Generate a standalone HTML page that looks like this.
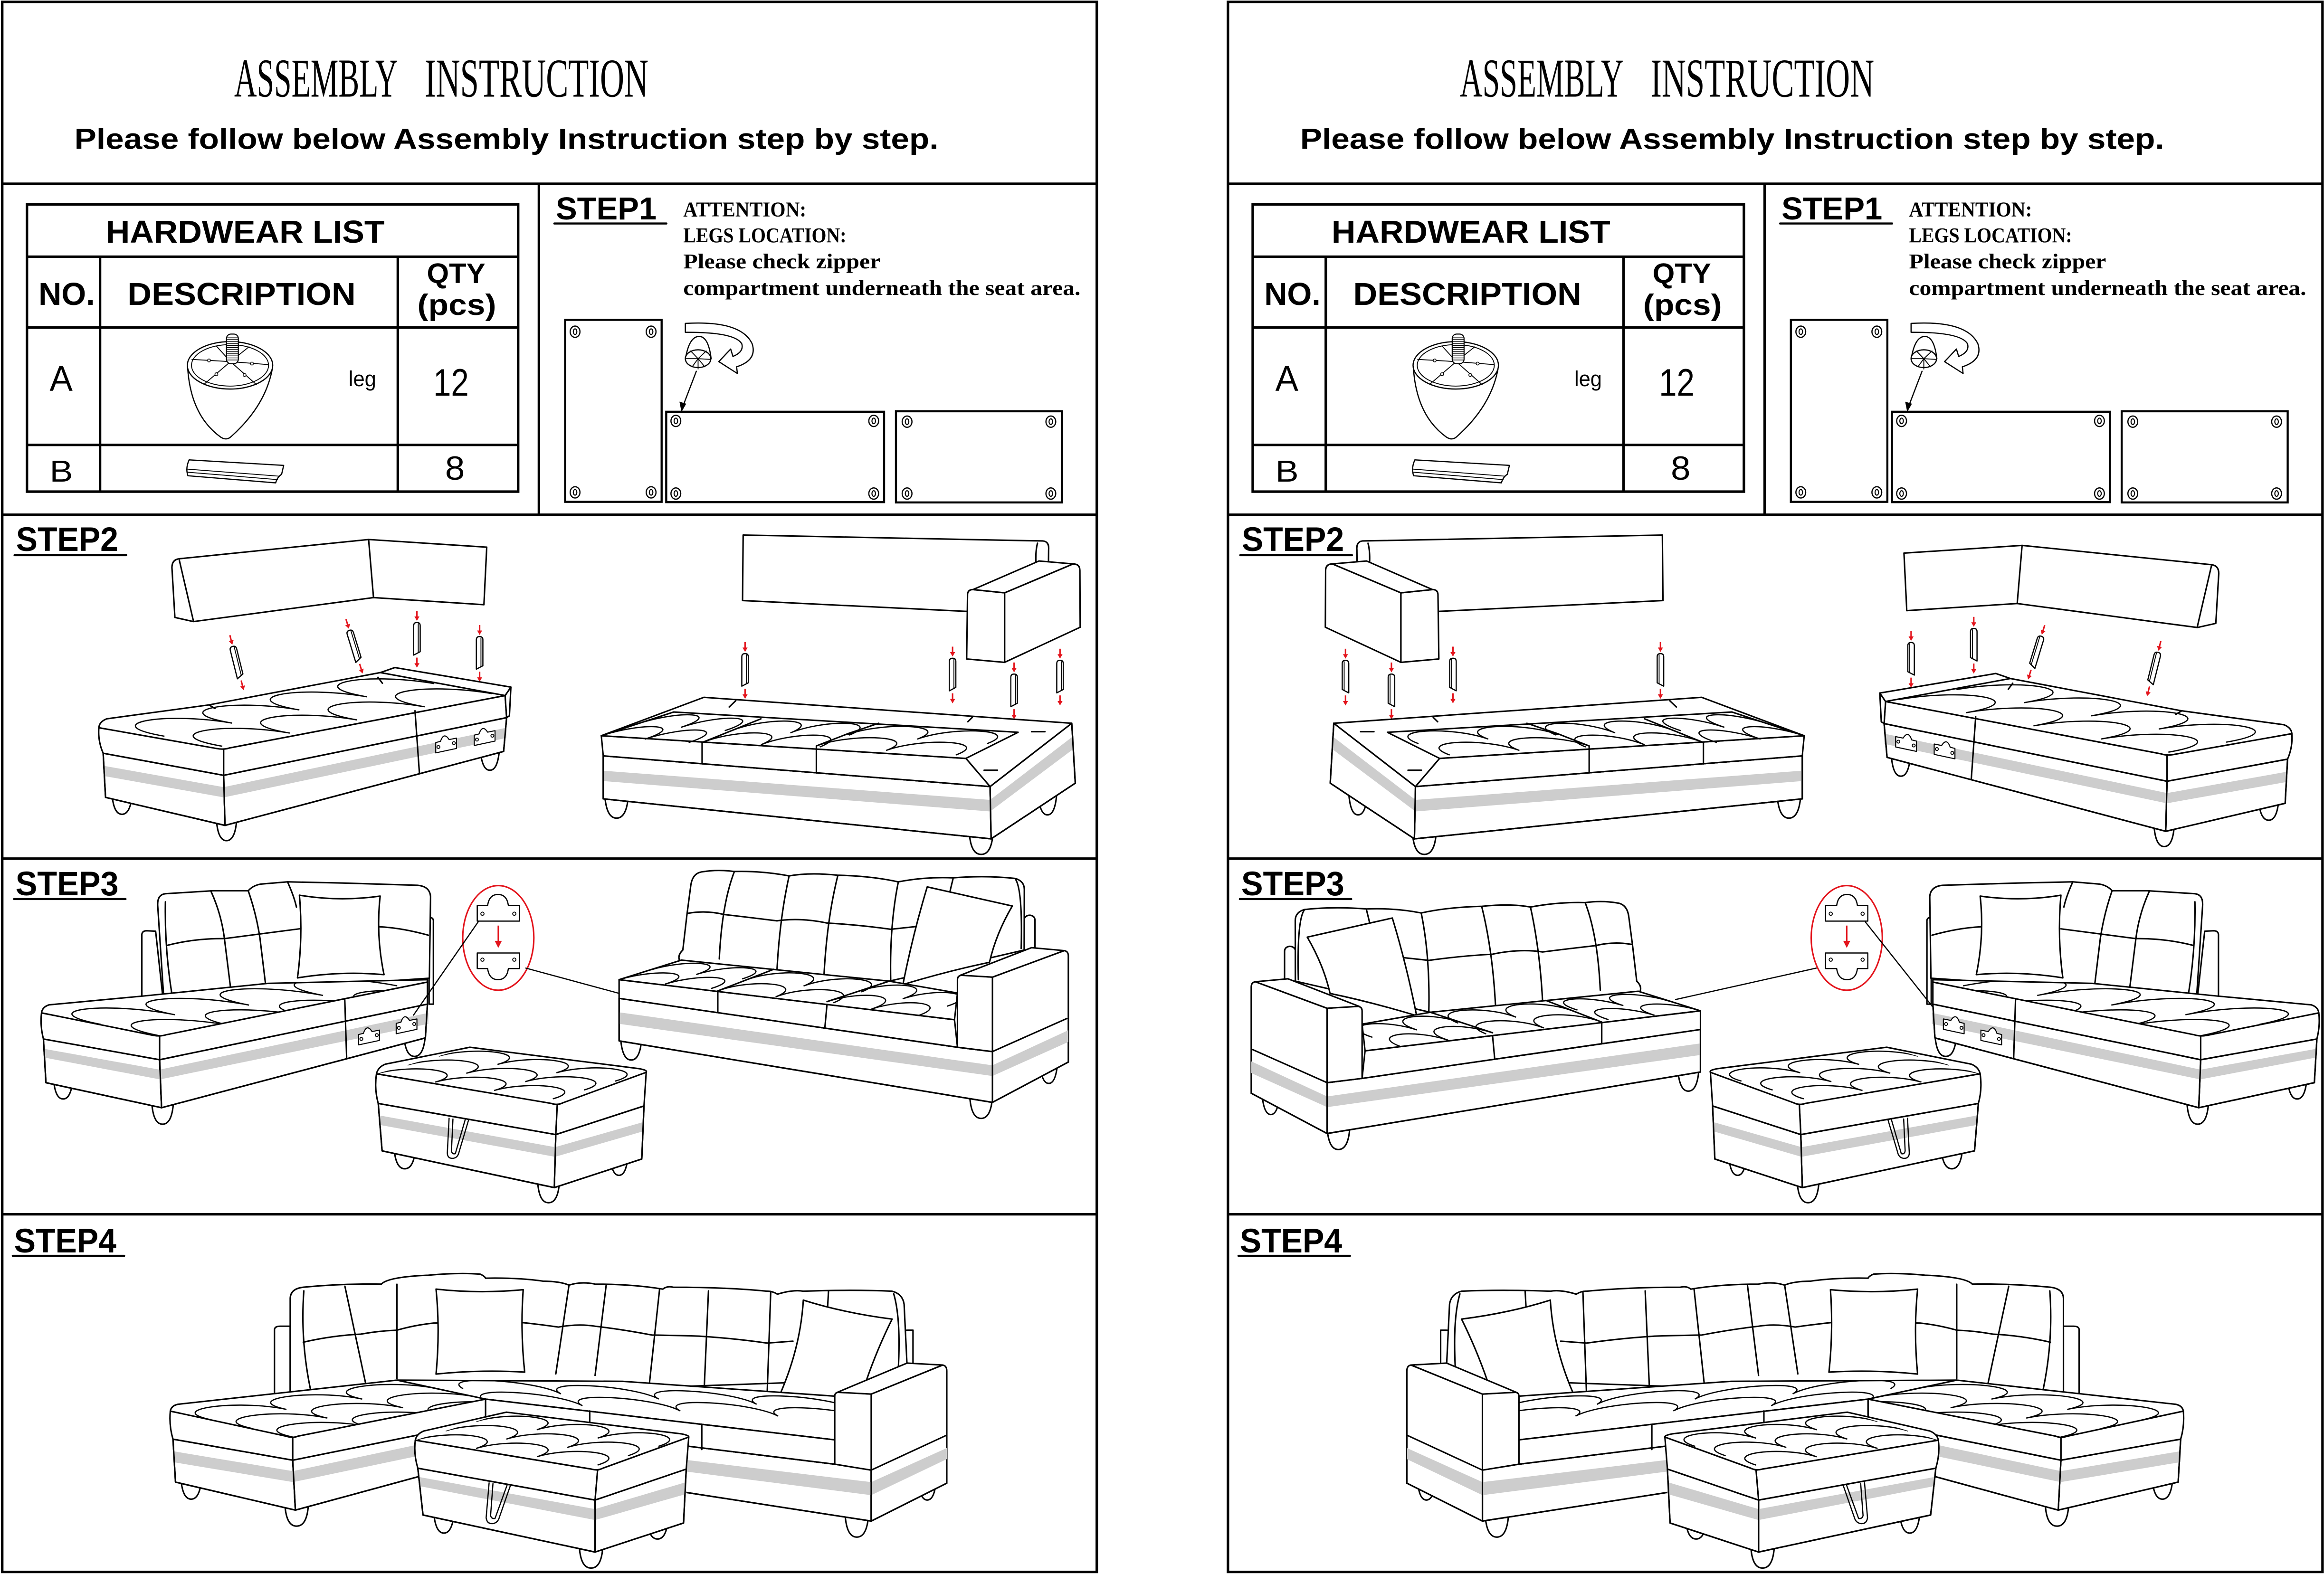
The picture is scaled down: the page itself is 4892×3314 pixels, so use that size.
<!DOCTYPE html>
<html><head><meta charset="utf-8">
<style>
html,body{margin:0;padding:0;background:#fff;}
svg{display:block;}
.b{fill:none;stroke:#000;stroke-width:1.7}
.k{fill:none;stroke:#000;stroke-width:1;stroke-linecap:round;stroke-linejoin:round}
.w{fill:#fff;stroke:#000;stroke-width:1;stroke-linejoin:round}
.g{fill:#cdcdcd;stroke:none}
.t{fill:none;stroke:#000;stroke-width:2.6;vector-effect:non-scaling-stroke}
.r{fill:none;stroke:#e3141c;stroke-width:1}
.rf{fill:#e3141c;stroke:none}
.s{font-family:"Liberation Sans",sans-serif}
.sf{font-family:"Liberation Serif",serif}
</style></head><body>
<svg width="4892" height="3314" viewBox="0 0 1568 1062" preserveAspectRatio="none" xmlns="http://www.w3.org/2000/svg">
<defs>
<path id="tA" class="t" d="M0,.5C0,-.1 .25,-.1 .25,.5C.25,-.1 .5,-.1 .5,.5C.5,-.1 .75,-.1 .75,.5C.75,-.1 1,-.1 1,.5M0,1C0,.4 .25,.4 .25,1C.25,.4 .5,.4 .5,1C.5,.4 .75,.4 .75,1C.75,.4 1,.4 1,1"/>
<path id="tB" class="t" d="M0,.333C0,-.067 .333,-.067 .333,.333C.333,-.067 .667,-.067 .667,.333C.667,-.067 1,-.067 1,.333M0,.667C0,.267 .333,.267 .333,.667C.333,.267 .667,.267 .667,.667C.667,.267 1,.267 1,.667M0,1C0,.6 .333,.6 .333,1C.333,.6 .667,.6 .667,1C.667,.6 1,.6 1,1"/>
<path id="tC" class="t" d="M0,.5C0,-.1 .5,-.1 .5,.5C.5,-.1 1,-.1 1,.5M0,1C0,.4 .5,.4 .5,1C.5,.4 1,.4 1,1"/>
<g id="pin">
<path class="r" d="M0,-19V-14.5"/><path class="rf" d="M-1.7,-15.3H1.7L0,-12.3Z"/>
<path class="w" style="stroke-width:.8" d="M-2.2,-9Q-2.2,-11.2 0,-11.2Q2.2,-11.2 2.2,-9V8.5L-2.2,10.8Z"/>
<path class="k" style="stroke-width:.6" d="M0.9,-10.3V9.2"/>
<path class="r" d="M0,12.5V17"/><path class="rf" d="M-1.7,16.3H1.7L0,19.3Z"/>
</g>
<g id="brk"><path class="w" style="stroke-width:.7" d="M-7,-1L-3.8,-1.8Q-1.5,-8.5 2,-3L7,-4V3L-7,6Z"/><circle cx="-5.2" cy="2" r="1" class="k" style="stroke-width:.6"/><circle cx="5.2" cy="-0.6" r="1" class="k" style="stroke-width:.6"/></g>
<g id="sc"><ellipse rx="3.3" ry="3.8" class="k" style="stroke-width:.8"/><ellipse rx="1.2" ry="1.9" class="k" style="stroke-width:.7"/></g>

<clipPath id="c3c"><path d="M28,683.4Q28.5,679.5 33,678L97,672L180.8,663.5L288.4,661L288.4,662.6L112,698.2Q108,699.5 103,698.5Z"/></clipPath>
<clipPath id="c3s"><path d="M417.7,661L459.7,647.8L600,662L646,670L644,688Z"/></clipPath>
<clipPath id="c3o"><path d="M254,724.5L317,706.6L436,723.5L376,745Z"/></clipPath>
<clipPath id="c4c"><path d="M114.9,952.1L267.8,931.2L327.6,944L197.5,969.6Z"/></clipPath>
<clipPath id="c4s"><path d="M267.8,931.2L420,932L563.2,942L563.2,971.5L327.6,944Z"/></clipPath>
<clipPath id="c4o"><path d="M280.2,971.7L341.7,952.8L464.7,969.6L403.2,991.9Z"/></clipPath>
<clipPath id="c2c"><path d="M66.7,491L141,475.6L256.6,453.8L340.8,469.3L150.9,505.4Z"/></clipPath>

<!-- STEP2 chaise -->
<g id="s2c">
<path class="w" d="M116,383Q116,377.5 121,377L248.7,364L328.4,369.2L326.5,408L252,403.2L130.5,419.4L118,416.6Z"/>
<path class="k" d="M121,378L130.5,419M248.7,364L252,403.2"/>
<use href="#pin" transform="translate(159.7,447) rotate(-14)"/>
<use href="#pin" transform="translate(239,436) rotate(-17)"/>
<use href="#pin" transform="translate(281.3,431.2)"/>
<use href="#pin" transform="translate(323.6,440.7)"/>
<path class="w" d="M75.5,535Q76.5,549.4 82.3,549.4Q88.2,549.4 89.2,535Z"/>
<path class="w" d="M146,553Q147,567.2 152.8,567.2Q158.7,567.2 159.7,553Z"/>
<path class="w" d="M324,505Q325,519.7 330.5,519.7Q336,519.7 337,505Z"/>
<path class="w" d="M69.6,508.2L150.9,523.1L151.8,556.9L71.2,538Z"/>
<path class="w" d="M150.9,523.1L341.8,484.2L339.8,507L151.8,556.9Z"/>
<path class="g" d="M70.6,516.8L150.9,531.1L151,538L70.8,523.7Z"/>
<path class="g" d="M150.9,531.1L341.8,491L341.6,497.9L151,538Z"/>
<path class="k" d="M69.6,508.2L150.9,523.1L151.8,556.9L71.2,538ZM150.9,523.1L341.8,484.2L339.8,507L151.8,556.9"/>
<path class="w" d="M66.7,491L150.9,505.4L150.9,523.1L69.6,508.2Q66,500 66.7,491Z"/>
<path class="w" d="M150.9,505.4L340.8,469.3L341.8,484.2L150.9,523.1Z"/>
<path class="w" d="M340.8,469.3L344.7,463.6L343.7,483L341.8,484.2Z"/>
<path class="w" d="M66.7,491Q67,487 72,485L141,475.6L256.6,453.8L266.4,450.4L344.7,463.6L340.8,469.3L155,504.6Q151,506 146,505Z"/>
<path class="k" d="M256.6,453.8L340.8,469.3M141,475.6L145,478M255,457L258,461"/>
<g clip-path="url(#c2c)"><use href="#tA" transform="matrix(182,-35.5,78,13.5,72,490)"/></g>
<path class="k" d="M280,479.6L283,522"/>
<use href="#brk" transform="translate(301,502)"/>
<use href="#brk" transform="translate(327,497)"/>
</g>

<!-- STEP2 sofa -->
<g id="s2s">
<path class="w" d="M501.4,361L703.8,365Q708,365.5 707.5,371L707,412L652,412.5L501,405.2Z"/>
<path class="k" d="M700,366.5Q698.5,372 699,381"/>
<path class="w" d="M677.8,400L724,380.5Q728.6,380.5 728.6,385L728.8,423.2L677.8,446.9Z"/>
<path class="w" d="M652.8,401Q653,397.8 656.5,397.8L677.8,400L677.8,446.9L652.2,444.6Z"/>
<path class="w" d="M656.5,397.8L701,378.5L724,380.5L677.8,400Z"/>
<use href="#pin" transform="translate(502.7,452.2)"/>
<use href="#pin" transform="translate(642.7,455.3)"/>
<use href="#pin" transform="translate(684.2,466)"/>
<use href="#pin" transform="translate(715.2,456.7)"/>
<path class="w" d="M408,536Q409,552 416,552Q423,552 424,536Z"/>
<path class="w" d="M654,562Q655,576.5 662,576.5Q669,576.5 670,562Z"/>
<path class="w" d="M700.4,535Q701.4,549.8 706.7,549.8Q712,549.8 713,535Z"/>
<path class="w" d="M407,510L668,530.7L668.7,566L407,539Z"/>
<path class="w" d="M668,530.7L723.1,488L725.5,528.4L668.7,566Z"/>
<path class="g" d="M407,520L668,539.7L668,547.5L407,527Z"/>
<path class="g" d="M668,539.7L724.5,496.4L724.7,505L668,547.5Z"/>
<path class="k" d="M407,510L668,530.7L668.7,566L407,539ZM668,530.7L723.1,488L725.5,528.4L668.7,566"/>
<path class="w" d="M405.7,496.4L651.7,511.7L668,530.7L407,510Z"/>
<path class="w" d="M405.7,496.4L474.9,470.5L723.1,488L668,530.7L651.7,511.7Z"/>
<path class="k" d="M405.7,496.4L454.5,480.4L686.9,494.1L651.7,511.7M473.7,501L513.4,485M550.8,503.3L572.4,494.9L592.8,488M473.7,501V515.4M550.8,503.3V521.5"/>
<path class="k" d="M696,493.7H705M664,519.7H673M492,477L496.4,472.8M653,487L656,484"/>
<use href="#tC" transform="matrix(58.9,4.6,-48.8,16,454.5,480.4)"/>
<use href="#tC" transform="matrix(79.4,3,-39.7,16,513.4,485)"/>
<use href="#tC" transform="matrix(94.1,6.1,-42,15.3,592.8,488)"/>
</g>

<!-- STEP3 chaise -->
<g id="s3c">
<path class="w" d="M95.7,674V630.5Q96,628 99,628L105,628.3L110,674Z"/>
<path class="w" d="M289.5,677.5V620.5Q290,619 291.3,619.3Q292.6,620 292.4,622V677.5Z"/>
<path class="w" d="M110.4,672L106.4,611Q106,603.5 111.7,603L143.6,601L167.5,601Q170.5,597.5 176,596.5L194,595L231.2,595.8L281.7,597.3Q290,598 290.5,605L289.7,660Z"/>
<path class="k" d="M111.6,608.5Q111,640 116,671"/>
<path class="k" d="M113,637.8Q132,633 151.5,633.3L202,626.7M256,625.3Q271,626 289,631M142.2,601Q149.5,617 151.5,634L155.5,666M167.5,601Q173,617 175.4,633L179.4,666M194,595Q198.5,605 200,612"/>
<path class="w" d="M202,604Q229,608.5 256.5,604.6Q253.5,631 259.1,657.6Q230,655 200.7,659.8Q204.5,632 202,604Z"/>
<path class="w" d="M36,727Q37,741.5 42.6,741.5Q48.2,741.5 49.2,727Z"/>
<path class="w" d="M102.4,744Q103.4,758.5 109.7,758.5Q116,758.5 117,744Z"/>
<path class="w" d="M272.4,698Q273.4,712.8 279.7,712.8Q286,712.8 287,698Z"/>
<path class="w" d="M29.3,701L107.7,715L109,747.4L31,730.5Z"/>
<path class="w" d="M107.7,715L288.4,677.5L287,700.3L109,747.4Z"/>
<path class="g" d="M30,707.7L107.7,721.7L108,728.3L30.2,713.6Z"/>
<path class="g" d="M107.7,721.7L289,683.4L289,690.8L108,728.3Z"/>
<path class="k" d="M29.3,701L107.7,715L109,747.4L31,730.5ZM107.7,715L288.4,677.5L287,700.3L109,747.4"/>
<path class="w" d="M28,683.4L107.7,698.9L107.7,715L29.3,701Q27,692 28,683.4Z"/>
<path class="w" d="M107.7,698.9L288.4,662.6L288.4,677.5L107.7,715Z"/>
<path class="w" d="M28,683.4Q28.5,679.5 33,678L97,672L180.8,663.5L288.4,661L288.4,662.6L112,698.2Q108,699.5 103,698.5Z"/>
<g clip-path="url(#c3c)"><use href="#tA" transform="matrix(200,-26,80,15.5,28,683.4)"/></g>
<path class="k" d="M232.6,673.8L233.9,714.3"/>
<use href="#brk" transform="translate(249,699)"/>
<use href="#brk" transform="translate(274.3,691.5)"/>
</g>

<!-- STEP3 sofa -->
<g id="s3s">
<path class="w" d="M691,641V620Q692,617.5 695,617.5Q698.3,618 698.3,621V641Z"/>
<path class="w" d="M459,649Q456.5,645 460.7,641L463.5,617L466,598Q467,589 474,588.2Q484,586.5 495.5,588Q514,587.5 532.4,591Q546,588.5 565,590.5Q588,591 606.1,595Q624,591.5 643,592.3Q665,590.5 685,592.7Q691,594.5 691.1,600L691,641L600,662Z"/>
<path class="k" d="M463.8,616.3Q476,614 488.4,617Q506,619 524.2,621.3Q540,619 558,622.8Q580,624 601,627L619.5,625M495.5,588Q487,610 485.3,647M532.4,591Q526,620 524.2,655M565.2,591Q558,620 556,657M606.1,595Q600,625 601,663M643,593Q640,605 638,615M685,593Q690,600 689,640"/>
<path class="w" d="M625.6,598.4Q655,605 683,611.3Q672,630 667.6,649.3Q640,655 609.2,664.3Q616,630 625.6,598.4Z"/>
<path class="w" d="M418.7,700Q419.7,715.2 425.9,715.2Q432,715.2 433,700Z"/>
<path class="w" d="M654.3,740Q655.3,754.6 662,754.6Q668.6,754.6 669.6,740Z"/>
<path class="w" d="M701.4,715Q702.4,731 707.6,731Q712.7,731 713.7,715Z"/>
<path class="w" d="M417.7,673.6L646,706.6L669.6,709.5L669.6,743.8L417.7,702.3Z"/>
<path class="w" d="M669.6,659.3L718,641.4Q720.8,641.8 720.8,645L720.8,716.6L669.6,743.8Z"/>
<path class="g" d="M417.7,683L669.6,718.8L669.6,726L417.7,690.8Z"/>
<path class="g" d="M669.6,718.8L720.8,695.1L720.8,703L669.6,726Z"/>
<path class="k" d="M417.7,673.6L646,706.6L669.6,709.5L669.6,743.8L417.7,702.3ZM669.6,743.8L720.8,716.6M669.6,709.5L719.8,687.2"/>
<path class="w" d="M417.7,661L644,688L646,706.6L417.7,673.6Z"/>
<path class="k" d="M484.3,668.9V683M558,677.5L556.5,693.7"/>
<path class="w" d="M417.7,661L459.7,647.8L600,662L646,670L644,688Z"/>
<g clip-path="url(#c3s)">
<use href="#tC" transform="matrix(62,6,-42,13,459.7,648)"/>
<use href="#tC" transform="matrix(78,8,-37.7,14.6,522,654)"/>
<use href="#tC" transform="matrix(60,10,-42,13.8,600,662)"/>
</g>
<path class="k" d="M484.3,668.6L522,654M558,675.8L600,662"/>
<path class="w" d="M646,661Q646,657.9 650,657.9L669.6,659.3L669.6,709.5L646,706.6Z"/>
<path class="w" d="M648,658L696,639.4L718,641.4L669.6,659.3Z"/>
</g>

<!-- STEP3 ottoman -->
<g id="s3o">
<path class="w" d="M265.8,774Q266.8,788.6 273.1,788.6Q279.4,788.6 280.4,774Z"/>
<path class="w" d="M362.8,798Q363.8,811.5 370.1,811.5Q376.4,811.5 377.4,798Z"/>
<path class="w" d="M411.7,780Q412.7,793 417.6,793Q422.6,793 423.6,780Z"/>
<path class="w" d="M255.2,744.5L375,765.5L374,801.3L257.8,776.5Z"/>
<path class="w" d="M375,765.5L434.5,746.2L433,782L374,801.3Z"/>
<path class="g" d="M256,752.6L374.5,774L374.5,780.5L256.2,759Z"/>
<path class="g" d="M374.5,774L434,757.1L434,763.3L374.5,780.5Z"/>
<path class="k" d="M255.2,744.5L375,765.5L374,801.3L257.8,776.5ZM375,765.5L434.5,746.2L433,782L374,801.3"/>
<path class="k" style="stroke-width:.8" d="M303,754.5L301.8,778Q302,782 306,781.5Q309,781 309.8,777L316.5,754.5M305.6,755L304.6,776.5Q305,779 307.2,778.4L314,755"/>
<path class="w" d="M254,724.5L376,745L375,765.5L255.2,744.5Q252.5,735 254,724.5Z"/>
<path class="w" d="M376,745L436,723.5L434.5,746.2L375,765.5Z"/>
<path class="w" d="M254,724.5Q255,720 260,718L317,706.6L431,721Q437,722 436,723.5L380,744Q376,746 372,744.5Z"/>
<g clip-path="url(#c3o)"><use href="#tB" transform="matrix(119,16.9,-63,17.9,317,706.6)"/></g>
</g>

<!-- STEP3 red detail -->
<g id="s3r">
<ellipse cx="336.2" cy="632.8" rx="24" ry="35.3" class="r"/>
<path class="w" style="stroke-width:.8" d="M322,611L329,611Q330,603.5 336,603.5Q342,603.5 343,611L350.5,611L350.5,621.5L322,621.5Z"/>
<circle cx="325.5" cy="616.5" r="1.1" class="k" style="stroke-width:.6"/><circle cx="347" cy="616.5" r="1.1" class="k" style="stroke-width:.6"/>
<path class="r" d="M336.2,624.5V635.5"/><path class="rf" d="M333.8,634.8H338.6L336.2,639.6Z"/>
<path class="w" style="stroke-width:.8" d="M322,643L350.5,643L350.5,653.5L343,653.5Q342,661 336,661Q330,661 329,653.5L322,653.5Z"/>
<circle cx="325.5" cy="647.5" r="1.1" class="k" style="stroke-width:.6"/><circle cx="347" cy="647.5" r="1.1" class="k" style="stroke-width:.6"/>
</g>

<!-- STEP4 sectional -->
<g id="s4">
<path class="w" d="M185.2,942V897Q185.5,894.8 189,894.8H195.8V942Z"/>
<path class="w" d="M609,920.4V899Q609.5,897.5 612.5,897.5H616V920.4Z"/>
<path class="w" d="M195.8,945V876Q196,869.5 204.6,868.5Q230,866 257.3,866.4Q262,861.5 289,860.4Q310,858.5 324,859.7Q327,861 327.6,862.4Q350,862 366.3,864.4Q378,864.5 383.9,867.1Q392,864.5 401.5,866.4Q428,866.5 447.2,869.8Q450,867.5 454.2,868.5Q490,868.5 517.5,871.2Q521,871 524.5,873.2Q535,870 542,871.2Q575,870 601.9,871.2Q609,873 610,880L612.4,930L195.8,945Z"/>
<path class="k" d="M205,871Q202.5,905 209.8,939"/>
<path class="k" d="M204.6,905.6Q225,901 243.2,900.2Q255,898 267.8,897.5Q280,894 292.5,892.7L348.7,892Q360,893 376.8,895.4Q390,893 401.5,894.8Q420,897 440.1,900.8Q455,901 471.8,901.5Q495,903 517.5,906.2L535,904.9M232.7,867.8L246.8,933.9M267.8,866.5L267.8,930M383.9,867.1L375,927M409,867L401.5,928M445,870L438,935M478,871L475,940M520,872L517.5,943M559,871L556,925M603,873Q608,890 606,925"/>
<path class="w" d="M294.2,869.8Q323,873 353,870.2Q351,898 354,925.8Q324,924 294.2,927.1Q297,898 294.2,869.8Z"/>
<path class="w" d="M542,877.2Q570,886 601.9,890Q588,918 579,948.7Q552,944 524.5,944.7Q540,911 542,877.2Z"/>
<path class="w" d="M570.2,1022Q571.2,1037.1 578.1,1037.1Q585,1037.1 586,1022Z"/>
<path class="w" d="M619.5,998Q620.5,1012.1 625.6,1012.1Q630.7,1012.1 631.7,998Z"/>
<path class="w" d="M327.6,959L563.2,987.9L587.8,991.9L587.8,1026.3L327.6,986Z"/>
<path class="w" d="M587.8,940.6L636,921Q638.8,921.5 638.8,925L638.8,1000.7L587.8,1026.3Z"/>
<path class="g" d="M327.6,968.8L587.8,1000L587.8,1008.8L327.6,975.6Z"/>
<path class="g" d="M587.8,1000L638.8,977L638.8,984.5L587.8,1008.8Z"/>
<path class="k" d="M327.6,959L563.2,987.9L587.8,991.9L587.8,1026.3L327.6,986M587.8,1026.3L638.8,1000.7M587.8,991.9L638.8,968.3"/>
<path class="w" d="M267.8,931.2L420,932L563.2,942L563.2,971.5L327.6,944Z"/>
<g clip-path="url(#c4s)"><use href="#tA" transform="matrix(264,14,29,16,298,929)"/></g>
<path class="w" d="M327.6,944L563.2,971.5L563.2,987.9L327.6,959Z"/>
<path class="k" d="M397.9,952V968M473.5,961V978"/>
<path class="w" d="M563.2,942Q563.2,939.3 566.5,939.3L587.8,940.6L587.8,991.9L563.2,987.9Z"/>
<path class="w" d="M565,939.4L612,919.7L636,921L587.8,940.6Z"/>
<path class="w" d="M122,997Q123,1011.5 129,1011.5Q135,1011.5 136,997Z"/>
<path class="w" d="M192.3,1016Q193.3,1029.7 200.1,1029.7Q207,1029.7 208,1016Z"/>
<path class="w" d="M116.7,971L197.5,985.2L199.3,1018.9L118.4,1000Z"/>
<path class="w" d="M197.5,985.2L327.6,959L327.6,984L199.3,1018.9Z"/>
<path class="g" d="M116.5,979.1L197.5,992.6L197.7,1000L116.7,986.5Z"/>
<path class="g" d="M197.5,992.6L327.6,965L327.6,972.8L197.7,1000Z"/>
<path class="k" d="M116.7,971L197.5,985.2L199.3,1018.9L118.4,1000ZM197.5,985.2L327.6,959L327.6,984L199.3,1018.9"/>
<path class="w" d="M114.9,952.1L197.5,969.6L197.5,985.2L116.7,971Q114,962 114.9,952.1Z"/>
<path class="w" d="M197.5,969.6L327.6,944L327.6,959L197.5,985.2Z"/>
<path class="w" d="M114.9,952.1Q115.5,948.5 120,947.5L267.8,931.2L327.6,944L201,969Q197.5,970.5 193,969Z"/>
<g clip-path="url(#c4c)"><use href="#tB" transform="matrix(152.9,-20.9,82.6,17.5,114.9,952.1)"/></g>
<path class="w" d="M292.5,1019Q293.5,1034.4 299.5,1034.4Q305.5,1034.4 306.5,1019Z"/>
<path class="w" d="M390.9,1044Q391.9,1058 398.8,1058Q405.7,1058 406.7,1044Z"/>
<path class="w" d="M436.6,1025Q437.6,1038.4 443.6,1038.4Q449.7,1038.4 450.7,1025Z"/>
<path class="w" d="M281.9,990.6L401.5,1012.1L401.5,1047.2L285.4,1022.2Z"/>
<path class="w" d="M401.5,1012.1L463,991.2L461.2,1027.6L401.5,1047.2Z"/>
<path class="g" d="M283,996.6L401.5,1018.2L401.5,1025.6L283,1002.7Z"/>
<path class="g" d="M401.5,1018.2L463,1000L463,1008L401.5,1025.6Z"/>
<path class="k" d="M281.9,990.6L401.5,1012.1L401.5,1047.2L285.4,1022.2ZM401.5,1012.1L463,991.2L461.2,1027.6L401.5,1047.2"/>
<path class="k" style="stroke-width:.8" d="M330,1000.5L328,1024Q328.5,1028.3 332.5,1028Q336,1027.5 337,1023.5L345,1000.5M332.6,1001L331,1022.5Q331.5,1025 334,1024.5L342.5,1001"/>
<path class="w" d="M280.2,971.7L403.2,991.9L401.5,1012.1L281.9,990.6Q279,981 280.2,971.7Z"/>
<path class="w" d="M403.2,991.9L464.7,969.6L463,991.2L401.5,1012.1Z"/>
<path class="w" d="M280.2,971.7Q281,967.5 286,965.5L341.7,952.8L460,967.5Q465,968.5 464.7,969.6L407,990.5Q403.2,992.5 399,991.2Z"/>
<g clip-path="url(#c4o)"><use href="#tB" transform="matrix(123,16.8,-61.5,18.9,341.7,952.8)"/></g>
</g>
</defs>

<rect x="0" y="0" width="1568" height="1062" fill="#fff"/>

<!-- ================= LEFT PANEL STATIC ================= -->
<g>
<rect class="b" x="1.5" y="1.3" width="738.5" height="1059.3"/>
<path class="b" d="M1.5,124H740M1.5,347.3H740M1.5,579.3H740M1.5,819.3H740M363.6,124V347.3"/>
<text class="sf" x="158" y="65.2" font-size="37" textLength="110.4" lengthAdjust="spacingAndGlyphs">ASSEMBLY</text>
<text class="sf" x="286.6" y="65.2" font-size="37" textLength="150.9" lengthAdjust="spacingAndGlyphs">INSTRUCTION</text>
<text class="s" x="50.2" y="100.5" font-weight="bold" font-size="19.5" textLength="583" lengthAdjust="spacingAndGlyphs">Please follow below Assembly Instruction step by step.</text>
<rect class="b" x="18.2" y="137.9" width="331.4" height="193.8"/>
<path class="b" d="M18.2,173.2H349.6M18.2,221H349.6M18.2,300.2H349.6M67.5,173.2V331.7M268.4,173.2V331.7"/>
<text class="s" x="71.4" y="163.7" font-weight="bold" font-size="21.4" textLength="188.1" lengthAdjust="spacingAndGlyphs">HARDWEAR LIST</text>
<text class="s" x="26" y="205.8" font-weight="bold" font-size="21.5" textLength="38" lengthAdjust="spacingAndGlyphs">NO.</text>
<text class="s" x="86" y="205.8" font-weight="bold" font-size="21.5" textLength="154" lengthAdjust="spacingAndGlyphs">DESCRIPTION</text>
<text class="s" x="288" y="191" font-weight="bold" font-size="19" textLength="39.5" lengthAdjust="spacingAndGlyphs">QTY</text>
<text class="s" x="281.6" y="212.5" font-weight="bold" font-size="20" textLength="53.2" lengthAdjust="spacingAndGlyphs">(pcs)</text>
<text class="s" x="33.5" y="263.6" font-size="24" textLength="15.5" lengthAdjust="spacingAndGlyphs">A</text>
<text class="s" x="235.2" y="260.6" font-size="14.5" textLength="18.6" lengthAdjust="spacingAndGlyphs">leg</text>
<text class="s" x="292.3" y="267" font-size="26" textLength="24" lengthAdjust="spacingAndGlyphs">12</text>
<text class="s" x="33.5" y="325" font-size="20.5" textLength="15.7" lengthAdjust="spacingAndGlyphs">B</text>
<text class="s" x="300.3" y="323.7" font-size="22.5" textLength="13.3" lengthAdjust="spacingAndGlyphs">8</text>
<path class="w" style="stroke-width:.8" d="M126.5,246Q128,280 149,295Q153,297.5 156,294.5Q179,274 183.7,249Z"/>
<ellipse cx="155.2" cy="246.5" rx="28.8" ry="16" class="w" style="stroke-width:.8"/>
<ellipse cx="155.2" cy="246.5" rx="26" ry="14" class="k" style="stroke-width:.6"/>
<path class="k" style="stroke-width:.6" d="M155.5,244L129.5,242.5M155.5,244L181,246M155.5,244L138,259M155.5,244L173,259.5M155.5,244L146,233.5M155.5,244L168,234"/>
<circle cx="141" cy="243.2" r="1" class="w" style="stroke-width:.5"/><circle cx="170" cy="245.3" r="1" class="w" style="stroke-width:.5"/><circle cx="146" cy="252.5" r="1" class="w" style="stroke-width:.5"/><circle cx="165" cy="253" r="1" class="w" style="stroke-width:.5"/>
<rect x="152.8" y="225.4" width="8" height="20" rx="3" class="w" style="stroke-width:.7"/>
<path class="k" style="stroke-width:.45" d="M152.8,227.5h8M152.8,228.9h8M152.8,230.3h8M152.8,231.7h8M152.8,233.1h8M152.8,234.5h8M152.8,235.9h8M152.8,237.3h8M152.8,238.7h8M152.8,240.1h8M152.8,241.5h8M152.8,242.9h8"/>
<path class="w" style="stroke-width:.8" d="M127.6,310.3L191.4,314L190,320Q187,322 186,325.8L126.8,321Q125,316 127.6,310.3Z"/>
<path class="k" style="stroke-width:.6" d="M126.3,316.5L188.5,321.3M126.5,318.6L187.2,323.6"/>
<text class="s" x="375" y="148" font-weight="bold" font-size="21.5" textLength="68" lengthAdjust="spacingAndGlyphs">STEP1</text>
<path class="k" style="stroke-width:1.4" d="M374,150.8H449.6"/>
<text class="sf" x="461" y="146" font-weight="bold" font-size="14.2" textLength="83" lengthAdjust="spacingAndGlyphs">ATTENTION:</text>
<text class="sf" x="461" y="163.5" font-weight="bold" font-size="14.2" textLength="110" lengthAdjust="spacingAndGlyphs">LEGS LOCATION:</text>
<text class="sf" x="461" y="181" font-weight="bold" font-size="14.2" textLength="133" lengthAdjust="spacingAndGlyphs">Please check zipper</text>
<text class="sf" x="461" y="199" font-weight="bold" font-size="14.2" textLength="268" lengthAdjust="spacingAndGlyphs">compartment underneath the seat area.</text>
<rect x="381.3" y="215.8" width="65.1" height="122.8" fill="#fff" stroke="#000" stroke-width="1.4"/>
<rect x="449.5" y="277.8" width="147" height="61" fill="#fff" stroke="#000" stroke-width="1.4"/>
<rect x="604.5" y="277.5" width="112" height="61.5" fill="#fff" stroke="#000" stroke-width="1.4"/>
<use href="#sc" x="388" y="223.8"/><use href="#sc" x="439.3" y="223.8"/><use href="#sc" x="388" y="332.2"/><use href="#sc" x="439.3" y="332.2"/>
<use href="#sc" x="456" y="284"/><use href="#sc" x="589.5" y="284"/><use href="#sc" x="456" y="333"/><use href="#sc" x="589.5" y="333"/>
<use href="#sc" x="612" y="284.5"/><use href="#sc" x="709" y="284.5"/><use href="#sc" x="612" y="333"/><use href="#sc" x="709" y="333"/>
<path class="w" style="stroke-width:.8" d="M462.4,218.2Q500,216 507.5,232Q511,243 497,247.5L497.5,252L485,244L493,235.5L494.5,240.5Q502,237.5 500.5,232Q496,224 462.4,224.2Z"/>
<path class="w" style="stroke-width:.8" d="M462.5,242Q465,227 471.7,227Q478,227 479.8,242Z"/>
<ellipse cx="471" cy="242" rx="8.6" ry="6" class="w" style="stroke-width:.8"/>
<path class="k" style="stroke-width:.6" d="M471,242L463,242M471,242L479.5,242.5M471,242L466,236.8M471,242L476.5,236.8M471,242L467,247.5M471,242L475.5,247.5M471,242V249"/>
<path class="k" style="stroke-width:.8" d="M469.8,250.5L461,273.5"/>
<path d="M458.4,271L463,272.4L459.8,278Z" fill="#000"/>
<text class="s" x="10.8" y="371.7" font-weight="bold" font-size="23" textLength="69" lengthAdjust="spacingAndGlyphs">STEP2</text>
<path class="k" style="stroke-width:1.4" d="M9.8,374.6H85.2"/>
<text class="s" x="10.5" y="604.1" font-weight="bold" font-size="23" textLength="69.5" lengthAdjust="spacingAndGlyphs">STEP3</text>
<path class="k" style="stroke-width:1.4" d="M9.5,606.6H84.7"/>
<text class="s" x="9.5" y="845" font-weight="bold" font-size="23" textLength="69" lengthAdjust="spacingAndGlyphs">STEP4</text>
<path class="k" style="stroke-width:1.4" d="M8.6,847.3H83.8"/>
</g>

<!-- ================= RIGHT PANEL STATIC ================= -->
<g transform="translate(827,0)">
<rect class="b" x="1.5" y="1.3" width="738.5" height="1059.3"/>
<path class="b" d="M1.5,124H740M1.5,347.3H740M1.5,579.3H740M1.5,819.3H740M363.6,124V347.3"/>
<text class="sf" x="158" y="65.2" font-size="37" textLength="110.4" lengthAdjust="spacingAndGlyphs">ASSEMBLY</text>
<text class="sf" x="286.6" y="65.2" font-size="37" textLength="150.9" lengthAdjust="spacingAndGlyphs">INSTRUCTION</text>
<text class="s" x="50.2" y="100.5" font-weight="bold" font-size="19.5" textLength="583" lengthAdjust="spacingAndGlyphs">Please follow below Assembly Instruction step by step.</text>
<rect class="b" x="18.2" y="137.9" width="331.4" height="193.8"/>
<path class="b" d="M18.2,173.2H349.6M18.2,221H349.6M18.2,300.2H349.6M67.5,173.2V331.7M268.4,173.2V331.7"/>
<text class="s" x="71.4" y="163.7" font-weight="bold" font-size="21.4" textLength="188.1" lengthAdjust="spacingAndGlyphs">HARDWEAR LIST</text>
<text class="s" x="26" y="205.8" font-weight="bold" font-size="21.5" textLength="38" lengthAdjust="spacingAndGlyphs">NO.</text>
<text class="s" x="86" y="205.8" font-weight="bold" font-size="21.5" textLength="154" lengthAdjust="spacingAndGlyphs">DESCRIPTION</text>
<text class="s" x="288" y="191" font-weight="bold" font-size="19" textLength="39.5" lengthAdjust="spacingAndGlyphs">QTY</text>
<text class="s" x="281.6" y="212.5" font-weight="bold" font-size="20" textLength="53.2" lengthAdjust="spacingAndGlyphs">(pcs)</text>
<text class="s" x="33.5" y="263.6" font-size="24" textLength="15.5" lengthAdjust="spacingAndGlyphs">A</text>
<text class="s" x="235.2" y="260.6" font-size="14.5" textLength="18.6" lengthAdjust="spacingAndGlyphs">leg</text>
<text class="s" x="292.3" y="267" font-size="26" textLength="24" lengthAdjust="spacingAndGlyphs">12</text>
<text class="s" x="33.5" y="325" font-size="20.5" textLength="15.7" lengthAdjust="spacingAndGlyphs">B</text>
<text class="s" x="300.3" y="323.7" font-size="22.5" textLength="13.3" lengthAdjust="spacingAndGlyphs">8</text>
<path class="w" style="stroke-width:.8" d="M126.5,246Q128,280 149,295Q153,297.5 156,294.5Q179,274 183.7,249Z"/>
<ellipse cx="155.2" cy="246.5" rx="28.8" ry="16" class="w" style="stroke-width:.8"/>
<ellipse cx="155.2" cy="246.5" rx="26" ry="14" class="k" style="stroke-width:.6"/>
<path class="k" style="stroke-width:.6" d="M155.5,244L129.5,242.5M155.5,244L181,246M155.5,244L138,259M155.5,244L173,259.5M155.5,244L146,233.5M155.5,244L168,234"/>
<circle cx="141" cy="243.2" r="1" class="w" style="stroke-width:.5"/><circle cx="170" cy="245.3" r="1" class="w" style="stroke-width:.5"/><circle cx="146" cy="252.5" r="1" class="w" style="stroke-width:.5"/><circle cx="165" cy="253" r="1" class="w" style="stroke-width:.5"/>
<rect x="152.8" y="225.4" width="8" height="20" rx="3" class="w" style="stroke-width:.7"/>
<path class="k" style="stroke-width:.45" d="M152.8,227.5h8M152.8,228.9h8M152.8,230.3h8M152.8,231.7h8M152.8,233.1h8M152.8,234.5h8M152.8,235.9h8M152.8,237.3h8M152.8,238.7h8M152.8,240.1h8M152.8,241.5h8M152.8,242.9h8"/>
<path class="w" style="stroke-width:.8" d="M127.6,310.3L191.4,314L190,320Q187,322 186,325.8L126.8,321Q125,316 127.6,310.3Z"/>
<path class="k" style="stroke-width:.6" d="M126.3,316.5L188.5,321.3M126.5,318.6L187.2,323.6"/>
<text class="s" x="375" y="148" font-weight="bold" font-size="21.5" textLength="68" lengthAdjust="spacingAndGlyphs">STEP1</text>
<path class="k" style="stroke-width:1.4" d="M374,150.8H449.6"/>
<text class="sf" x="461" y="146" font-weight="bold" font-size="14.2" textLength="83" lengthAdjust="spacingAndGlyphs">ATTENTION:</text>
<text class="sf" x="461" y="163.5" font-weight="bold" font-size="14.2" textLength="110" lengthAdjust="spacingAndGlyphs">LEGS LOCATION:</text>
<text class="sf" x="461" y="181" font-weight="bold" font-size="14.2" textLength="133" lengthAdjust="spacingAndGlyphs">Please check zipper</text>
<text class="sf" x="461" y="199" font-weight="bold" font-size="14.2" textLength="268" lengthAdjust="spacingAndGlyphs">compartment underneath the seat area.</text>
<rect x="381.3" y="215.8" width="65.1" height="122.8" fill="#fff" stroke="#000" stroke-width="1.4"/>
<rect x="449.5" y="277.8" width="147" height="61" fill="#fff" stroke="#000" stroke-width="1.4"/>
<rect x="604.5" y="277.5" width="112" height="61.5" fill="#fff" stroke="#000" stroke-width="1.4"/>
<use href="#sc" x="388" y="223.8"/><use href="#sc" x="439.3" y="223.8"/><use href="#sc" x="388" y="332.2"/><use href="#sc" x="439.3" y="332.2"/>
<use href="#sc" x="456" y="284"/><use href="#sc" x="589.5" y="284"/><use href="#sc" x="456" y="333"/><use href="#sc" x="589.5" y="333"/>
<use href="#sc" x="612" y="284.5"/><use href="#sc" x="709" y="284.5"/><use href="#sc" x="612" y="333"/><use href="#sc" x="709" y="333"/>
<path class="w" style="stroke-width:.8" d="M462.4,218.2Q500,216 507.5,232Q511,243 497,247.5L497.5,252L485,244L493,235.5L494.5,240.5Q502,237.5 500.5,232Q496,224 462.4,224.2Z"/>
<path class="w" style="stroke-width:.8" d="M462.5,242Q465,227 471.7,227Q478,227 479.8,242Z"/>
<ellipse cx="471" cy="242" rx="8.6" ry="6" class="w" style="stroke-width:.8"/>
<path class="k" style="stroke-width:.6" d="M471,242L463,242M471,242L479.5,242.5M471,242L466,236.8M471,242L476.5,236.8M471,242L467,247.5M471,242L475.5,247.5M471,242V249"/>
<path class="k" style="stroke-width:.8" d="M469.8,250.5L461,273.5"/>
<path d="M458.4,271L463,272.4L459.8,278Z" fill="#000"/>
<text class="s" x="10.8" y="371.7" font-weight="bold" font-size="23" textLength="69" lengthAdjust="spacingAndGlyphs">STEP2</text>
<path class="k" style="stroke-width:1.4" d="M9.8,374.6H85.2"/>
<text class="s" x="10.5" y="604.1" font-weight="bold" font-size="23" textLength="69.5" lengthAdjust="spacingAndGlyphs">STEP3</text>
<path class="k" style="stroke-width:1.4" d="M9.5,606.6H84.7"/>
<text class="s" x="9.5" y="845" font-weight="bold" font-size="23" textLength="69" lengthAdjust="spacingAndGlyphs">STEP4</text>
<path class="k" style="stroke-width:1.4" d="M8.6,847.3H83.8"/>
</g>

<!-- ================= LEFT DRAWINGS ================= -->
<use href="#s2c"/>
<use href="#s2s"/>
<use href="#s3c"/>
<use href="#s3s"/>
<use href="#s3o"/>
<use href="#s3r"/>
<path class="k" style="stroke-width:.8" d="M322.9,621.6L279,684.9M354.8,653.2L417.2,670.1"/>
<use href="#s4"/>

<!-- ================= RIGHT DRAWINGS (mirrored) ================= -->
<use href="#s2c" transform="translate(1613,4) scale(-1,1)"/>
<use href="#s2s" transform="translate(1623,0) scale(-1,1)"/>
<use href="#s3s" transform="translate(1565,21) scale(-1,1)"/>
<use href="#s3c" transform="translate(1592.5,0) scale(-1,1)"/>
<use href="#s3o" transform="translate(1590,0) scale(-1,1)"/>
<use href="#s3r" transform="translate(1582.2,0) scale(-1,1)"/>
<path class="k" style="stroke-width:.8" d="M1258.6,622.1L1303.7,679M1225.4,653.2L1130.5,674.4"/>
<use href="#s4" transform="translate(1588,0) scale(-1,1)"/>
</svg>
</body></html>
